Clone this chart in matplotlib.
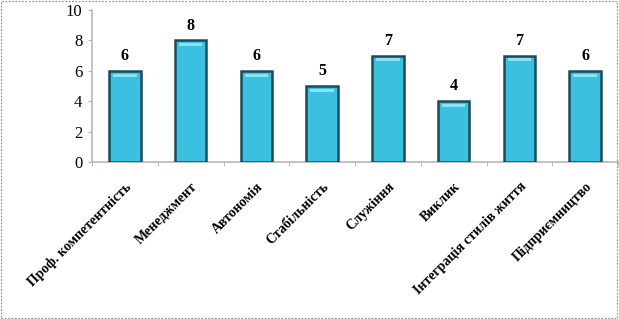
import numpy as np
import matplotlib.pyplot as plt
import matplotlib.transforms as mtransforms
from matplotlib.patches import Rectangle

categories = ["Проф. компетентність", "Менеджмент", "Автономія", "Стабільність",
              "Служіння", "Виклик", "Інтеграція стилів життя", "Підприємництво"]
values = [6, 8, 6, 5, 7, 4, 7, 6]
y_ticks = [0, 2, 4, 6, 8, 10]

plt.rcParams['font.family'] = ['Liberation Serif', 'DejaVu Serif']

fig = plt.figure(figsize=(6.19, 3.19), dpi=100)
ax = fig.add_axes([92 / 619, 1 - 162 / 319, (618 - 92) / 619, (162 - 10) / 319])

x = np.arange(len(categories))
bars = ax.bar(x, values, width=0.48, color='#3cc0e0', edgecolor='#1b4a5a',
              linewidth=1.8, zorder=3)
# light bevel at top of each bar
for b in bars:
    ax.add_patch(Rectangle((b.get_x() + 0.06, b.get_height() - 0.38), b.get_width() - 0.12, 0.2,
                           facecolor='#86e4f6', edgecolor='none', zorder=4))

for xi, v in zip(x, values):
    ax.text(xi, v + 0.45, str(v), ha='center', va='bottom', fontsize=11.5, fontweight='bold')

ax.set_xlim(-0.5, len(categories) - 0.5)
ax.set_ylim(0, 10)
ax.set_yticks(y_ticks)
ax.set_yticklabels([str(t) for t in y_ticks], fontsize=12)

ax.set_xticks(x)
ax.set_xticklabels(categories, rotation=45, ha='right', va='top', rotation_mode='anchor',
                   fontsize=10, fontweight='bold')
shift = mtransforms.ScaledTranslation(9 / 100, 0, fig.dpi_scale_trans)
for lab in ax.get_xticklabels():
    lab.set_transform(lab.get_transform() + shift)
ax.set_xticks(np.arange(len(categories) + 1) - 0.5, minor=True)
ax.tick_params(axis='x', which='major', length=0, pad=13)
ax.tick_params(axis='x', which='minor', length=3, color='#b0b0b0', direction='out')
ax.tick_params(axis='y', length=3, color='#b0b0b0', pad=4)

for s in ['top', 'right']:
    ax.spines[s].set_visible(False)
for s in ['left', 'bottom']:
    ax.spines[s].set_color('#b8b8b8')
    ax.spines[s].set_linewidth(1.2)

# dotted frame around the figure
fig.patches.append(Rectangle((0.002, 0.003), 0.995, 0.994, transform=fig.transFigure,
                             fill=False, edgecolor='#888888', linestyle=(0, (1.5, 1.5)),
                             linewidth=0.8))

fig.savefig('out.png', dpi=100)
